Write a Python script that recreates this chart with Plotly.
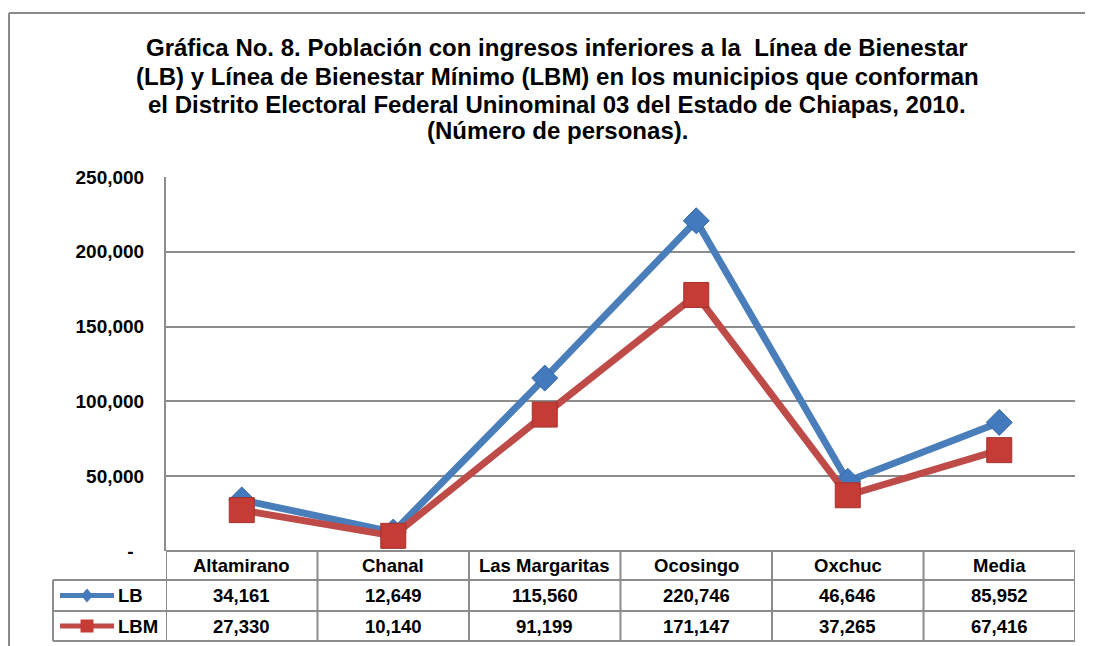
import plotly.graph_objects as go

municipios = ['Altamirano', 'Chanal', 'Las Margaritas', 'Ocosingo', 'Oxchuc', 'Media']
lb = [34161, 12649, 115560, 220746, 46646, 85952]
lbm = [27330, 10140, 91199, 171147, 37265, 67416]
series_names = ['LB', 'LBM']
y_ticks = [0, 50000, 100000, 150000, 200000, 250000]
y_ticktext = ['-  ', '50,000', '100,000', '150,000', '200,000', '250,000']

title_lines = ['Gráfica No. 8. Población con ingresos inferiores a la  Línea de Bienestar',
               '(LB) y Línea de Bienestar Mínimo (LBM) en los municipios que conforman',
               'el Distrito Electoral Federal Uninominal 03 del Estado de Chiapas, 2010.',
               '(Número de personas).']

blue = '#4a7ebb'
red = '#be4b48'
grid = '#8c8c8c'
FONT = 'Liberation Sans, Arial, sans-serif'

# page offset of the figure inside the window (body margin)
OX, OY = 8, 7
W, H = 1093 - OX, 646 - OY
# plot area, reference pixels: x 166..1075, y 176..550
L = 166 - OX
T = 176 - OY
R = W - (1075 - OX)
B = H - (550 - OY)
pw = W - L - R
ph = H - T - B


def fx(x):
    # reference pixel x -> paper x
    return (x - OX - L) / pw


def fy(y):
    # reference pixel y -> paper y
    return (T + ph - (y - OY)) / ph


fig = go.Figure()
fig.add_scatter(x=municipios, y=lb, name=series_names[0], mode='lines+markers',
                line=dict(color=blue, width=7),
                marker=dict(symbol='diamond', size=20, color='#4379bd',
                            line=dict(color='#3a68a3', width=1)))
fig.add_scatter(x=municipios, y=lbm, name=series_names[1], mode='lines+markers',
                line=dict(color=red, width=7),
                marker=dict(symbol='square', size=25, color='#c53b35',
                            line=dict(color='#a5322e', width=1)))

shapes = []
rows = [550, 579, 610, 640]
leg_left = fx(53)
# outer frame: only top and left sides are inside the picture
frame = dict(color='#8a8a8a', width=2)
shapes.append(dict(type='line', xref='paper', yref='paper', x0=fx(9), x1=fx(1093),
                   y0=fy(12), y1=fy(12), line=frame))
shapes.append(dict(type='line', xref='paper', yref='paper', x0=fx(9), x1=fx(9),
                   y0=fy(12), y1=fy(646), line=frame))
# table horizontal lines
shapes.append(dict(type='line', xref='paper', yref='paper', x0=0, x1=1,
                   y0=0, y1=0, line=dict(color=grid, width=2)))
for r in rows[1:]:
    shapes.append(dict(type='line', xref='paper', yref='paper', x0=leg_left, x1=1,
                       y0=fy(r), y1=fy(r), line=dict(color=grid, width=2)))
# table vertical lines
for k in range(len(municipios) + 1):
    shapes.append(dict(type='line', xref='x', yref='paper', x0=k - 0.5, x1=k - 0.5,
                       y0=fy(rows[-1]), y1=0, line=dict(color=grid, width=2)))
shapes.append(dict(type='line', xref='paper', yref='paper', x0=leg_left, x1=leg_left,
                   y0=fy(rows[-1]), y1=fy(rows[1]), line=dict(color=grid, width=2)))

# legend keys in the table
for i, col in enumerate([blue, red]):
    yc = fy((rows[i + 1] + rows[i + 2]) / 2)
    shapes.append(dict(type='line', xref='paper', yref='paper', x0=fx(60), x1=fx(114),
                       y0=yc, y1=yc, line=dict(color=col, width=5)))
    cx = fx(87)
    if i == 0:
        dx, dy = 6 / pw, 7 / ph
        path = f'M {cx - dx} {yc} L {cx} {yc + dy} L {cx + dx} {yc} L {cx} {yc - dy} Z'
    else:
        dx, dy = 6.5 / pw, 6.5 / ph
        path = (f'M {cx - dx} {yc - dy} L {cx - dx} {yc + dy} L {cx + dx} {yc + dy} '
                f'L {cx + dx} {yc - dy} Z')
    shapes.append(dict(type='path', xref='paper', yref='paper', path=path,
                       fillcolor='#4379bd' if i == 0 else '#c53b35', line=dict(width=0)))

annotations = []
cell_font = dict(family=FONT, size=18.5, color='black', weight='bold')
for m in municipios:
    annotations.append(dict(x=m, y=fy((rows[0] + rows[1]) / 2), xref='x', yref='paper',
                            xanchor='center', yanchor='middle',
                            text=m, showarrow=False, font=cell_font))
for i, vals in enumerate([lb, lbm]):
    yc = fy((rows[i + 1] + rows[i + 2]) / 2)
    for m, v in zip(municipios, vals):
        annotations.append(dict(x=m, y=yc, xref='x', yref='paper', text=f'{v:,}',
                                xanchor='center', yanchor='middle',
                                showarrow=False, font=cell_font))
    annotations.append(dict(x=fx(116), y=yc, xref='paper', yref='paper', xanchor='left',
                            yanchor='middle', text=series_names[i], showarrow=False,
                            font=cell_font))

# title, one annotation per line
for line, yc in zip(title_lines, [47, 75, 103, 130]):
    annotations.append(dict(x=fx(557), y=fy(yc), xref='paper', yref='paper',
                            xanchor='center', yanchor='middle', text=line, showarrow=False,
                            font=dict(family=FONT, size=24, color='black', weight='bold')))

fig.update_layout(
    width=W, height=H,
    margin=dict(l=L, r=R, t=T, b=B, autoexpand=False),
    paper_bgcolor='white', plot_bgcolor='white',
    showlegend=False,
    shapes=shapes,
    annotations=annotations,
)
fig.update_xaxes(type='category', range=[-0.5, len(municipios) - 0.5], showgrid=False,
                 showticklabels=False, showline=False, zeroline=False)
fig.update_yaxes(range=[0, 250000], tickvals=y_ticks, ticktext=y_ticktext,
                 showgrid=True, gridcolor=grid, gridwidth=2, zeroline=False,
                 showline=True, linecolor=grid, linewidth=2,
                 ticks='outside', ticklen=16, tickcolor='rgba(0,0,0,0)',
                 tickfont=dict(family=FONT, size=19, color='black', weight='bold'))

fig.write_html('out.html')
